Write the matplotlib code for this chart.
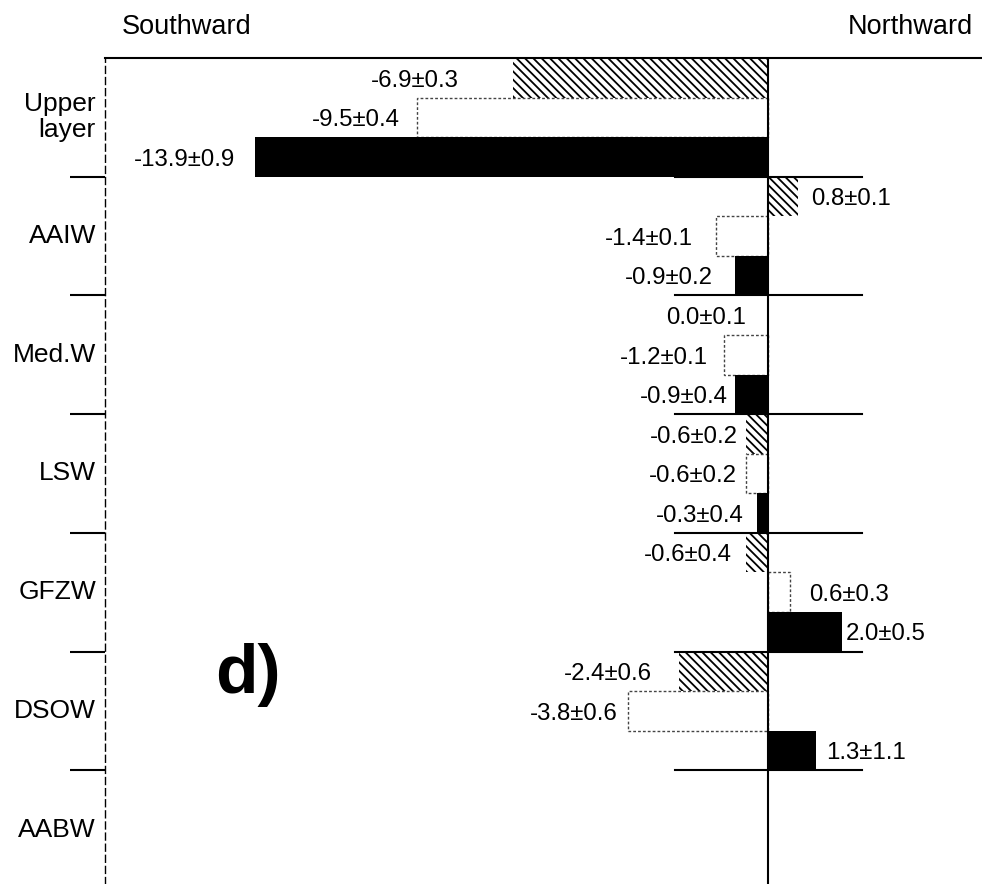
import matplotlib
matplotlib.use("Agg")
import matplotlib.pyplot as plt
import matplotlib.transforms as mtransforms

plt.rcParams["font.family"] = ["Liberation Sans", "DejaVu Sans"]
plt.rcParams["hatch.color"] = "black"
plt.rcParams["hatch.linewidth"] = 1.3

# ─── Data ─────────────────────────────────────────────────────────────────────
water_masses = ["Upper\nlayer", "AAIW", "Med.W", "LSW", "GFZW", "DSOW", "AABW"]

# three estimates per water mass (hatched, open, solid); AABW has no bars
hatched_vals = [-6.9, 0.8, 0.0, -0.6, -0.6, -2.4]
hatched_err = [0.3, 0.1, 0.1, 0.2, 0.4, 0.6]
open_vals = [-9.5, -1.4, -1.2, -0.6, 0.6, -3.8]
open_err = [0.4, 0.1, 0.1, 0.2, 0.3, 0.6]
solid_vals = [-13.9, -0.9, -0.9, -0.3, 2.0, 1.3]
solid_err = [0.9, 0.2, 0.4, 0.4, 0.5, 1.1]

# gap between bar end and its label (pixels), same order as the bars
label_gap = [
    [55, 14, 22, 8, 14, 28],
    [18, 23, 16, 9, 19, 10],
    [20, 22, 7, 13, 4, 10],
]

# ─── Figure ───────────────────────────────────────────────────────────────────
W, H = 982, 884
fig = plt.figure(figsize=(W / 100, H / 100), dpi=100)
ax = fig.add_axes([105 / W, 0, 1 - 105 / W, 1 - 58 / H])

px_per_unit = 36.9
x0 = 768
ax.set_xlim((105 - x0) / px_per_unit, (W - x0) / px_per_unit)
group_px = 118.7
ax.set_ylim((H - 58) / group_px, 0)

series = [
    (hatched_vals, hatched_err, dict(facecolor="white", edgecolor="black", linewidth=0, hatch="\\\\\\\\")),
    (open_vals, open_err, dict(facecolor="white", edgecolor="#444444", linewidth=1.0, linestyle=(0, (2, 1.5)))),
    (solid_vals, solid_err, dict(facecolor="black", edgecolor="black", linewidth=0)),
]

bh = 1 / 3
for k, (vals, errs, style) in enumerate(series):
    ys = [i + bh * (k + 0.5) for i in range(len(vals))]
    ax.barh(ys, vals, height=bh, zorder=2, **style)
    for i, (y, v, e) in enumerate(zip(ys, vals, errs)):
        gap = label_gap[k][i] * 0.72
        txt = f"{v:.1f}\u00b1{e:.1f}"
        if v <= 0:
            ax.annotate(txt, (v, y), xytext=(-gap, -2), textcoords="offset points",
                        ha="right", va="center", fontsize=17.3)
        else:
            ax.annotate(txt, (v, y), xytext=(gap, -2), textcoords="offset points",
                        ha="left", va="center", fontsize=17.3)

# group separators and the zero line
for b in range(1, len(water_masses)):
    ax.plot([(675 - x0) / px_per_unit, (862 - x0) / px_per_unit], [b, b],
            color="black", lw=1.5, zorder=3)
ax.axvline(0, color="black", lw=1.5, zorder=3)

# spines / ticks
for s in ["right", "bottom"]:
    ax.spines[s].set_visible(False)
ax.spines["top"].set_linewidth(1.5)
ax.spines["left"].set_linestyle((0, (5, 3)))
ax.spines["left"].set_linewidth(1.0)
ax.set_xticks([])
ax.set_yticks(range(1, len(water_masses)))
ax.set_yticklabels([])
ax.tick_params(axis="y", length=25, width=1.5, direction="out", pad=0)

# water mass labels
trans = mtransforms.blended_transform_factory(ax.transAxes, ax.transData)
for i, name in enumerate(water_masses):
    ax.text(-9 / (W - 105), i + 0.5, name, transform=trans, ha="right", va="center",
            fontsize=19, linespacing=1.1, clip_on=False)

fig.text(122 / W, 1 - 27 / H, "Southward", ha="left", va="center", fontsize=19.5)
fig.text(973 / W, 1 - 27 / H, "Northward", ha="right", va="center", fontsize=19.5)
fig.text(248 / W, 1 - 675 / H, "d)", ha="center", va="center", fontsize=50, fontweight="bold")

fig.savefig("out.png", dpi=100, facecolor="white")
